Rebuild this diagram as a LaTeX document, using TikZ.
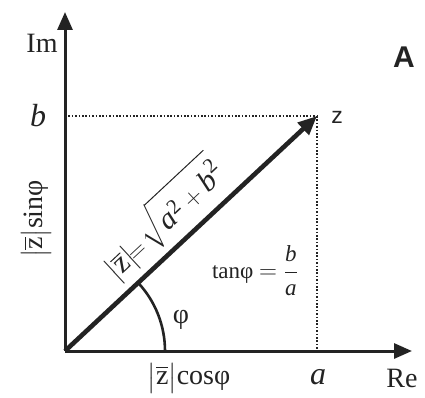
\documentclass[tikz,border=0pt]{standalone}
\usepackage{amsmath}
\usepackage{fontspec}
\setmainfont{Liberation Serif}
\setsansfont{Liberation Sans}
\usetikzlibrary{arrows.meta, positioning, calc}
\definecolor{linegray}{RGB}{35,35,35}
\newcommand{\modz}{$\bigl|\overline{\text{z}}\bigr|$}

\begin{document}
\begin{tikzpicture}[
    x=1pt, y=1pt,
    axis/.style={-{Triangle[length=18pt, width=15pt]}, line width=3pt, color=linegray},
    vec/.style={-{Triangle[length=19pt, width=16pt]}, line width=4.6pt, color=linegray},
    guide/.style={line width=2.8pt, dash pattern=on 1.6pt off 1.8pt, color=linegray},
    lbl/.style={font=\fontsize{28}{32}\selectfont, inner sep=0pt, text=linegray},
    var/.style={font=\fontsize{32}{36}\selectfont\itshape, inner sep=0pt, text=linegray}
  ]
    \useasboundingbox (0,0) rectangle (425,397);
    \coordinate (O) at (65,46);
    \coordinate (Z) at (317,281);
    \coordinate (ytop) at (65,385);
    \coordinate (xend) at (412,46);
    \coordinate (zb) at (65,281);
    \coordinate (za) at (317,46);
    % guide lines
    \draw[guide] (zb) -- (Z);
    \draw[guide] (Z) -- (za);
    % axes and vector
    \draw[axis] (O) -- (ytop);
    \draw[axis] (O) -- (xend);
    \draw[vec] (O) -- (Z);
    \draw[line width=2.6pt, color=linegray] ($(O)+(100,0)$) arc[start angle=0, end angle=43, radius=100];
    \path (O) -- (Z) node[lbl, pos=0.47, sloped, above=8pt, font=\fontsize{30}{34}\selectfont] (modl)
      {\modz$\!=\!\sqrt{\textit{a}^{\text{2}}+\textit{b}^{\text{2}}}$};
    % labels
    \node[lbl] (im) at (42,354) {Im};
    \node[lbl] (re) at (402,19) {Re};
    \node[var] (b) at (38,281) {b};
    \node[var] (a) at (318,20) {a};
    \node[font=\sffamily\bfseries\fontsize{30}{34}\selectfont, text=linegray] (tag) at (404,340) {A};
    \node[font=\sffamily\fontsize{23}{26}\selectfont, text=linegray] (zlbl) at (337,280) {z};
    \node[lbl] (phi) at (181,77) {φ};
    \node[lbl] (cosl) at (189,19) {\modz cosφ};
    \node[lbl, rotate=90] (sinl) at (36,178) {\modz sinφ};
    \node[lbl, font=\fontsize{23}{27}\selectfont] (tanl) at (255,126)
      {tanφ $=\dfrac{\textit{b}}{\textit{a}}$};
  \end{tikzpicture}
\end{document}
